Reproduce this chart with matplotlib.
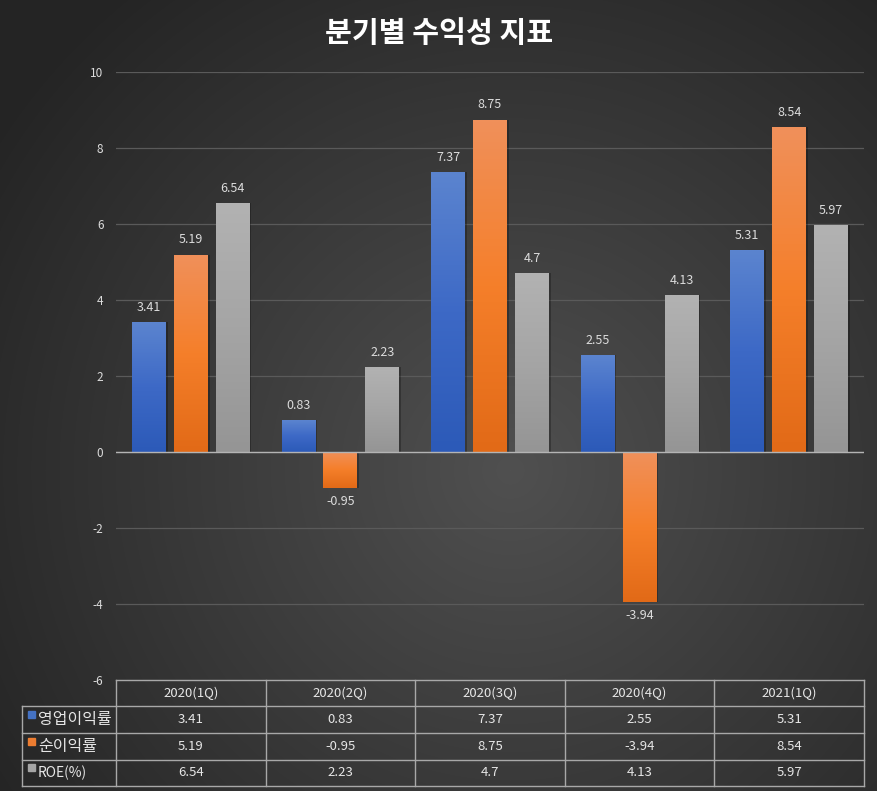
import numpy as np
import matplotlib
matplotlib.use("Agg")
import matplotlib.pyplot as plt
from matplotlib.colors import LinearSegmentedColormap

plt.rcParams['font.family'] = ['Noto Sans CJK KR', 'DejaVu Sans']

categories = ["2020(1Q)", "2020(2Q)", "2020(3Q)", "2020(4Q)", "2021(1Q)"]
series_names = ["영업이익률", "순이익률", "ROE(%)"]
op_margin = [3.41, 0.83, 7.37, 2.55, 5.31]
net_margin = [5.19, -0.95, 8.75, -3.94, 8.54]
roe = [6.54, 2.23, 4.7, 4.13, 5.97]
series = [op_margin, net_margin, roe]
label_texts = [["3.41", "0.83", "7.37", "2.55", "5.31"],
               ["5.19", "-0.95", "8.75", "-3.94", "8.54"],
               ["6.54", "2.23", "4.7", "4.13", "5.97"]]
yticks = [-6, -4, -2, 0, 2, 4, 6, 8, 10]

grad_colors = [["#2c5ab8", "#3d69c6", "#5b84cf"],
               ["#e26a17", "#f57f2a", "#f0905a"],
               ["#959595", "#a5a5a5", "#b2b2b2"]]
legend_colors = ["#4472c4", "#ed7d31", "#a5a5a5"]

W, H = 878, 791
fig = plt.figure(figsize=(W / 100, H / 100), dpi=100)

# background radial gradient
bg = fig.add_axes([0, 0, 1, 1])
yy, xx = np.mgrid[0:H, 0:W]
cx, cy = 510, 470
r = np.sqrt((xx - cx) ** 2 + (yy - cy) ** 2) / 620.0
r = np.clip(r, 0, 1)
c0 = np.array([0x50, 0x50, 0x50]) / 255.0
c1 = np.array([0x24, 0x24, 0x24]) / 255.0
img = c0[None, None, :] * (1 - r[..., None]) + c1[None, None, :] * r[..., None]
bg.imshow(img, extent=[0, W, H, 0], aspect='auto')
bg.set_xlim(0, W)
bg.set_ylim(H, 0)
bg.axis('off')

# main axes
L, R, T, B = 116, 864, 72, 680
ax = fig.add_axes([L / W, 1 - B / H, (R - L) / W, (B - T) / H])
ax.patch.set_alpha(0)
ax.set_xlim(-0.5, len(categories) - 0.5)
ax.set_ylim(-6, 10)
ax.set_yticks(yticks)
ax.set_yticklabels([str(t) for t in yticks], color="#dcdcdc", fontsize=8.5)
ax.tick_params(axis='y', length=0, pad=9)
ax.set_xticks([])
for s in ax.spines.values():
    s.set_visible(False)
ax.grid(axis='y', color="#5a5a5a", linewidth=0.9)
ax.set_axisbelow(True)
ax.axhline(0, color="#b4b4b4", linewidth=1, zorder=4)

x = np.arange(len(categories))
bw = 0.226
offs = [-0.28, 0.0, 0.28]
for i, vals in enumerate(series):
    cmap = LinearSegmentedColormap.from_list("g%d" % i, grad_colors[i])
    bars = ax.bar(x + offs[i], vals, width=bw, color="none", edgecolor="none", zorder=2)
    for j, (b, v) in enumerate(zip(bars, vals)):
        y0, y1 = min(0, v), max(0, v)
        # shadow
        ax.bar(b.get_x() + bw / 2 + 0.012, v, width=bw, bottom=0, color="black",
               alpha=0.25, zorder=1.5, edgecolor="none")
        grad = np.linspace(0, 1, 100).reshape(-1, 1)
        im = ax.imshow(grad, cmap=cmap, origin='lower', aspect='auto',
                       extent=[b.get_x(), b.get_x() + bw, y0, y1], zorder=2)
        im.set_clip_path(b)
        if v >= 0:
            ax.annotate(label_texts[i][j], (b.get_x() + bw / 2, v), xytext=(0, 6),
                        textcoords='offset points', ha='center', va='bottom',
                        color="#dcdcdc", fontsize=9)
        else:
            ax.annotate(label_texts[i][j], (b.get_x() + bw / 2, v), xytext=(0, -5),
                        textcoords='offset points', ha='center', va='top',
                        color="#dcdcdc", fontsize=9)
ax.set_xlim(-0.5, len(categories) - 0.5)
ax.set_ylim(-6, 10)

# title
fig.text(0.5, 1 - 33 / H, "분기별 수익성 지표", ha='center', va='center',
         color='white', fontsize=21, fontweight='bold')

# data table (drawn in pixel coordinates on bg axes)
lc = "#a8a8a8"
colw = (R - L) / len(categories)
rows_y = [680, 706, 733, 760, 786]
tl = 22
bg.plot([L, R], [rows_y[0], rows_y[0]], color=lc, lw=1)
for yv in rows_y[1:]:
    bg.plot([tl, R], [yv, yv], color=lc, lw=1)
bg.plot([tl, tl], [rows_y[1], rows_y[-1]], color=lc, lw=1)
for k in range(len(categories) + 1):
    xv = L + k * colw
    bg.plot([xv, xv], [rows_y[0], rows_y[-1]], color=lc, lw=1)
for k, c in enumerate(categories):
    bg.text(L + (k + 0.5) * colw, (rows_y[0] + rows_y[1]) / 2, c, ha='center', va='center',
            color="#e6e6e6", fontsize=9.5)
for i, name in enumerate(series_names):
    yc = (rows_y[i + 1] + rows_y[i + 2]) / 2
    bg.add_patch(plt.Rectangle((28, yc - 9), 7, 7, color=legend_colors[i]))
    bg.text(38, yc, name, ha='left', va='center', color="#e6e6e6",
            fontsize=11.5 if i < 2 else 10)
    for k in range(len(categories)):
        bg.text(L + (k + 0.5) * colw, yc, label_texts[i][k], ha='center', va='center',
                color="#e6e6e6", fontsize=9.5)
bg.set_xlim(0, W)
bg.set_ylim(H, 0)

fig.savefig("out.png", dpi=100)
